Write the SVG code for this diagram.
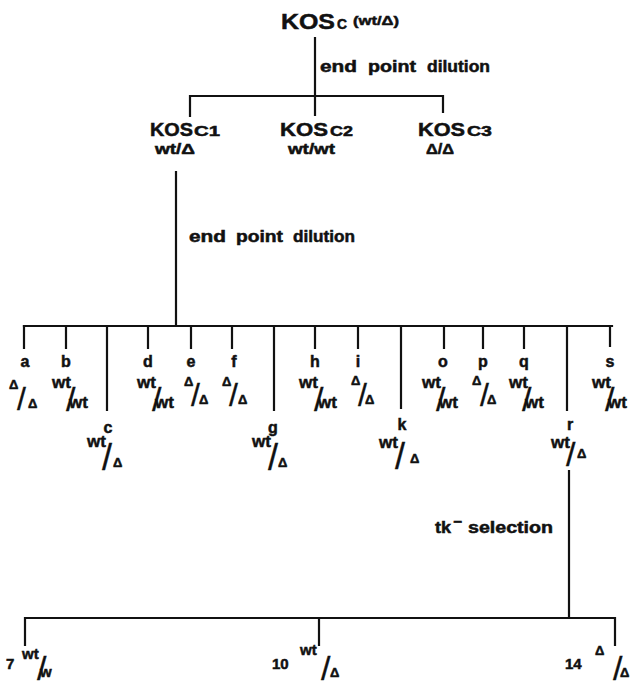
<svg xmlns="http://www.w3.org/2000/svg" width="632" height="685" viewBox="0 0 632 685">
<style>
text{font-family:"Liberation Sans",Arial,sans-serif;font-weight:bold;fill:#111;stroke:#111;stroke-width:0.5}
.kos{font-size:19px}
.kt{font-size:22px}
.sub{font-size:15px}
.g{font-size:14px}
.lbl{font-size:16px}
.let{font-size:16px;text-anchor:middle}
.wt{font-size:17px}
.d{font-size:13px}
.s1{font-size:32px;font-weight:normal;stroke-width:0.3}
.s2{font-size:34px;font-weight:normal;stroke-width:0.3}
.s3{font-size:36px;font-weight:normal;stroke-width:0.3}
.num{font-size:15px}
.ln{stroke:#111;stroke-width:2.2;fill:none;stroke-linecap:square}
</style>
<rect width="632" height="685" fill="#fff"/>
<g id="connectors">
<path class="ln" d="M315,38V96M190,96H443M190,96V116M315,96V115M443,96V112"/>
<path class="ln" d="M176,172V326M24,326H612"/>
<path class="ln" d="M24,326V348M66,326V348M148,326V348M191,326V348M232,326V348M315,326V348M358,326V348M444,326V348M483,326V348M524,326V348M610,326V346"/>
<path class="ln" d="M107,326V410M274,326V410M401,326V408M567,326V410"/>
<path class="ln" d="M569,471V618M25,618H615M25,618V645M319,618V645M615,618V645"/>
<text class="lbl" x="320" y="72" textLength="37" lengthAdjust="spacingAndGlyphs">end</text>
<text class="lbl" x="368" y="72" textLength="48" lengthAdjust="spacingAndGlyphs">point</text>
<text class="lbl" x="427" y="72" textLength="63" lengthAdjust="spacingAndGlyphs">dilution</text>
<text class="lbl" x="189" y="242" textLength="37" lengthAdjust="spacingAndGlyphs">end</text>
<text class="lbl" x="236" y="242" textLength="47" lengthAdjust="spacingAndGlyphs">point</text>
<text class="lbl" x="293" y="242" textLength="62" lengthAdjust="spacingAndGlyphs">dilution</text>
<text class="lbl" x="435" y="533" textLength="16" lengthAdjust="spacingAndGlyphs">tk</text>
<text class="lbl" x="453" y="527" textLength="9" lengthAdjust="spacingAndGlyphs">−</text>
<text class="lbl" x="468" y="533" textLength="85" lengthAdjust="spacingAndGlyphs">selection</text>
</g>
<g id="KOSC">
<text class="kt" x="281" y="29" textLength="54" lengthAdjust="spacingAndGlyphs">KOS</text>
<text class="g" x="337" y="29" textLength="10" lengthAdjust="spacingAndGlyphs">C</text>
<text class="d" x="353" y="25" textLength="46" lengthAdjust="spacingAndGlyphs">(wt/Δ)</text>
</g>
<g id="KOSC1">
<text class="kos" x="150" y="136" textLength="43" lengthAdjust="spacingAndGlyphs">KOS</text>
<text class="sub" x="194" y="136" textLength="26" lengthAdjust="spacingAndGlyphs">C1</text>
<text class="g" x="155" y="154" textLength="40" lengthAdjust="spacingAndGlyphs">wt/Δ</text>
</g>
<g id="KOSC2">
<text class="kos" x="280" y="136" textLength="48" lengthAdjust="spacingAndGlyphs">KOS</text>
<text class="sub" x="330" y="136" textLength="23" lengthAdjust="spacingAndGlyphs">C2</text>
<text class="g" x="288" y="154" textLength="47" lengthAdjust="spacingAndGlyphs">wt/wt</text>
</g>
<g id="KOSC3">
<text class="kos" x="418" y="136" textLength="47" lengthAdjust="spacingAndGlyphs">KOS</text>
<text class="sub" x="467" y="136" textLength="25" lengthAdjust="spacingAndGlyphs">C3</text>
<text class="g" x="426" y="154" textLength="28" lengthAdjust="spacingAndGlyphs">Δ/Δ</text>
</g>
<g id="a"><text class="let" x="25" y="367">a</text><text class="d" x="9" y="389">Δ</text><text class="s1" x="17" y="410">/</text><text class="d" x="28" y="408">Δ</text></g>
<g id="b"><text class="let" x="66" y="367">b</text><text class="wt" x="52" y="388">wt</text><text class="s2" x="66" y="411">/</text><text class="wt" x="69" y="408">wt</text></g>
<g id="c"><text class="let" x="108" y="433">c</text><text class="wt" x="87" y="447">wt</text><text class="s3" x="102" y="470">/</text><text class="d" x="113" y="467">Δ</text></g>
<g id="d"><text class="let" x="148" y="367">d</text><text class="wt" x="137" y="388">wt</text><text class="s2" x="152" y="411">/</text><text class="wt" x="155" y="408">wt</text></g>
<g id="e"><text class="let" x="191" y="367">e</text><text class="d" x="184" y="386">Δ</text><text class="s1" x="191" y="406">/</text><text class="d" x="199" y="404">Δ</text></g>
<g id="f"><text class="let" x="234" y="367">f</text><text class="d" x="222" y="386">Δ</text><text class="s1" x="229" y="406">/</text><text class="d" x="238" y="404">Δ</text></g>
<g id="g"><text class="let" x="273" y="433">g</text><text class="wt" x="252" y="447">wt</text><text class="s3" x="268" y="470">/</text><text class="d" x="278" y="467">Δ</text></g>
<g id="h"><text class="let" x="315" y="367">h</text><text class="wt" x="299" y="388">wt</text><text class="s2" x="314" y="411">/</text><text class="wt" x="318" y="408">wt</text></g>
<g id="i"><text class="let" x="358" y="367">i</text><text class="d" x="351" y="385">Δ</text><text class="s1" x="358" y="406">/</text><text class="d" x="365" y="404">Δ</text></g>
<g id="k"><text class="let" x="402" y="430">k</text><text class="wt" x="379" y="448">wt</text><text class="s3" x="395" y="469">/</text><text class="d" x="410" y="463">Δ</text></g>
<g id="o"><text class="let" x="443" y="367">o</text><text class="wt" x="422" y="388">wt</text><text class="s2" x="436" y="411">/</text><text class="wt" x="439" y="408">wt</text></g>
<g id="p"><text class="let" x="483" y="367">p</text><text class="d" x="472" y="385">Δ</text><text class="s1" x="480" y="406">/</text><text class="d" x="487" y="404">Δ</text></g>
<g id="q"><text class="let" x="524" y="367">q</text><text class="wt" x="509" y="388">wt</text><text class="s2" x="522" y="411">/</text><text class="wt" x="525" y="408">wt</text></g>
<g id="r"><text class="let" x="570" y="430">r</text><text class="wt" x="551" y="448">wt</text><text class="s2" x="566" y="466">/</text><text class="d" x="577" y="458">Δ</text></g>
<g id="s"><text class="let" x="610" y="367">s</text><text class="wt" x="592" y="388">wt</text><text class="s2" x="605" y="411">/</text><text class="wt" x="608" y="408">wt</text></g>
<g id="n7"><text class="num" x="6" y="669">7</text><text class="num" x="22" y="659">wt</text><text class="s2" x="37" y="680">/</text><text class="num" x="40" y="677">w</text></g>
<g id="n10"><text class="num" x="272" y="669">10</text><text class="num" x="300" y="655">wt</text><text class="s2" x="321" y="680">/</text><text class="d" x="330" y="677">Δ</text></g>
<g id="n14"><text class="num" x="565" y="669">14</text><text class="d" x="595" y="655">Δ</text><text class="s2" x="613" y="680">/</text><text class="d" x="620" y="677">Δ</text></g>
</svg>
